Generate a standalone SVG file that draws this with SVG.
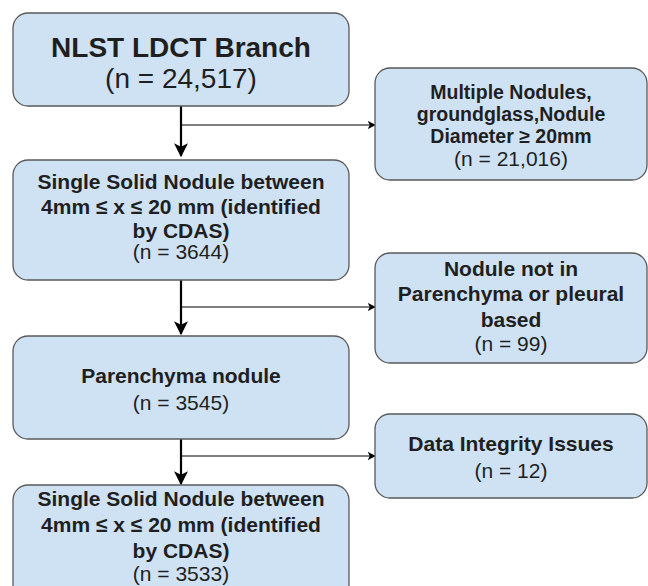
<svg xmlns="http://www.w3.org/2000/svg" width="648" height="586" viewBox="0 0 648 586">
<defs>
<style>
.box{fill:#cfe2f3;stroke:#595959;stroke-width:1.3}
.t{font-family:"Liberation Sans",Arial,sans-serif;fill:#1f1f1f;text-anchor:middle}
.b{font-weight:bold}
.main{stroke:#000;stroke-width:2.2;fill:none}
.br{stroke:#000;stroke-width:1.2;fill:none}
</style>
<marker id="big" viewBox="0 0 12 12" refX="11" refY="6" markerWidth="14" markerHeight="14" markerUnits="userSpaceOnUse" orient="auto">
<path d="M0,0 L12,6 L0,12 L3,6 Z" fill="#000"/>
</marker>
<marker id="small" viewBox="0 0 10 10" refX="9" refY="5" markerWidth="8" markerHeight="8" markerUnits="userSpaceOnUse" orient="auto">
<path d="M0,0 L10,5 L0,10 L2.5,5 Z" fill="#000"/>
</marker>
</defs>
<rect width="648" height="586" fill="#fff"/>
<g id="connectors">
<line class="main" x1="181" y1="106" x2="181" y2="156" marker-end="url(#big)"/>
<line class="br" x1="181" y1="125" x2="375" y2="125" marker-end="url(#small)"/>
<line class="main" x1="181" y1="280" x2="181" y2="334" marker-end="url(#big)"/>
<line class="br" x1="181" y1="307" x2="375" y2="307" marker-end="url(#small)"/>
<line class="main" x1="181" y1="439" x2="181" y2="484" marker-end="url(#big)"/>
<line class="br" x1="181" y1="456" x2="375" y2="456" marker-end="url(#small)"/>
</g>
<g id="n1">
<rect class="box" x="13" y="13" width="336" height="93" rx="15"/>
<text class="t b" x="181" y="57" font-size="28">NLST LDCT Branch</text>
<text class="t" x="181" y="88" font-size="28">(n = 24,517)</text>
</g>
<g id="n2">
<rect class="box" x="375" y="68" width="272" height="112" rx="15"/>
<text class="t b" x="511" y="99" font-size="19.5">Multiple Nodules,</text>
<text class="t b" x="511" y="121" font-size="19.5">groundglass,Nodule</text>
<text class="t b" x="511" y="143" font-size="19.5">Diameter ≥ 20mm</text>
<text class="t" x="511" y="166" font-size="21">(n = 21,016)</text>
</g>
<g id="n3">
<rect class="box" x="13" y="160" width="336" height="120" rx="15"/>
<text class="t b" x="181" y="189" font-size="21">Single Solid Nodule between</text>
<text class="t b" x="181" y="214" font-size="21">4mm ≤ x ≤ 20 mm (identified</text>
<text class="t b" x="181" y="238" font-size="21">by CDAS)</text>
<text class="t" x="181" y="259" font-size="21">(n = 3644)</text>
</g>
<g id="n4">
<rect class="box" x="375" y="253" width="272" height="110" rx="15"/>
<text class="t b" x="511" y="276" font-size="21">Nodule not in</text>
<text class="t b" x="511" y="301" font-size="21">Parenchyma or pleural</text>
<text class="t b" x="511" y="327" font-size="21">based</text>
<text class="t" x="511" y="351" font-size="21">(n = 99)</text>
</g>
<g id="n5">
<rect class="box" x="13" y="336" width="336" height="103" rx="15"/>
<text class="t b" x="181" y="383" font-size="21">Parenchyma nodule</text>
<text class="t" x="181" y="410" font-size="21">(n = 3545)</text>
</g>
<g id="n6">
<rect class="box" x="375" y="414" width="272" height="84" rx="15"/>
<text class="t b" x="511" y="451" font-size="21">Data Integrity Issues</text>
<text class="t" x="511" y="478" font-size="21">(n = 12)</text>
</g>
<g id="n7">
<rect class="box" x="13" y="485" width="336" height="120" rx="15"/>
<text class="t b" x="181" y="506" font-size="21">Single Solid Nodule between</text>
<text class="t b" x="181" y="532" font-size="21">4mm ≤ x ≤ 20 mm (identified</text>
<text class="t b" x="181" y="558" font-size="21">by CDAS)</text>
<text class="t" x="181" y="581" font-size="21">(n = 3533)</text>
</g>
</svg>
